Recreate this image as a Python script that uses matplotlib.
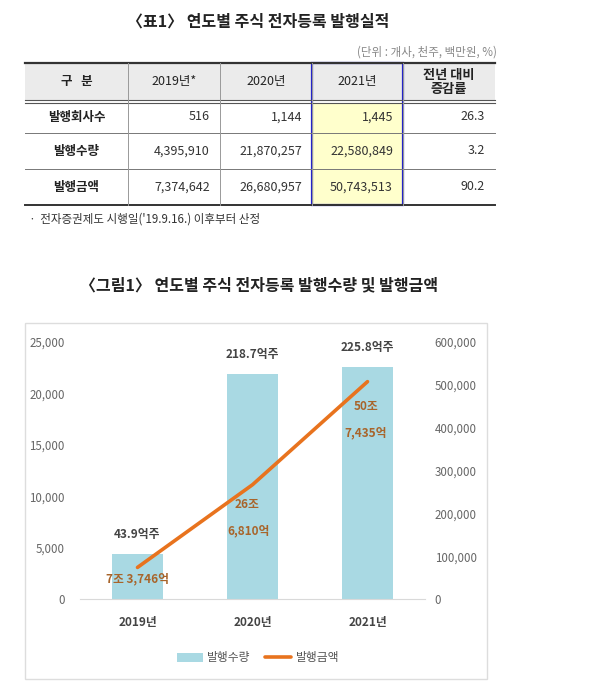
import matplotlib.pyplot as plt
from matplotlib.patches import Rectangle

plt.rcParams['font.family'] = ['Noto Sans CJK KR', 'DejaVu Sans']

# table data
col_heads = ['구   분', '2019년*', '2020년', '2021년', '전년 대비\n증감률']
row_heads = ['발행회사수', '발행수량', '발행금액']
table_vals = [['516', '1,144', '1,445', '26.3'],
              ['4,395,910', '21,870,257', '22,580,849', '3.2'],
              ['7,374,642', '26,680,957', '50,743,513', '90.2']]

# chart data
years = ['2019년', '2020년', '2021년']
qty = [4396, 21870, 22581]          # 발행수량 (백만주)
amt = [73746, 266810, 507435]       # 발행금액 (억원)
qty_labels = ['43.9억주', '218.7억주', '225.8억주']
amt_labels = [['7조 3,746억'], ['26조', '6,810억'], ['50조', '7,435억']]

W, H = 600, 690
fig = plt.figure(figsize=(W / 100, H / 100), dpi=100)

# overlay in pixel coords for table, titles and frame
ov = fig.add_axes([0, 0, 1, 1], zorder=0)
ov.set_xlim(0, W)
ov.set_ylim(H, 0)
ov.axis('off')

ov.text(258, 22, '〈표1〉 연도별 주식 전자등록 발행실적', ha='center', va='center',
        fontsize=11.5, fontweight='bold', color='#222222')
ov.text(497, 52, '(단위 : 개사, 천주, 백만원, %)', ha='right', va='center',
        fontsize=8.3, color='#888888')

cols = [25, 128, 220, 312, 403, 495]
rows = [63, 101, 133, 169, 205]

ov.add_patch(Rectangle((25, 63), 470, 37, color='#ebebeb', lw=0))
ov.add_patch(Rectangle((312, 103), 91, 102, color='#ffffcc', lw=0))
ov.plot([25, 495], [63, 63], color='#333333', lw=1.6)
ov.plot([25, 495], [100, 100], color='#555555', lw=0.8)
ov.plot([25, 495], [103, 103], color='#555555', lw=0.8)
for y in rows[2:4]:
    ov.plot([25, 495], [y, y], color='#777777', lw=0.7)
ov.plot([25, 495], [205, 205], color='#333333', lw=1.4)
for x in cols[1:-1]:
    ov.plot([x, x], [63, 205], color='#999999', lw=0.7)
ov.add_patch(Rectangle((312, 63), 91, 142, fill=False, ec='#2323c8', lw=1.6))

for i, h in enumerate(col_heads):
    xc = (cols[i] + cols[i + 1]) / 2
    ov.text(xc, 82, h, ha='center', va='center', fontsize=9.5 if i == 4 else 9,
            fontweight='bold' if i in (0, 4) else 'medium', color='#222222',
            linespacing=1.05)
for r, name in enumerate(row_heads):
    yc = (rows[r + 1] + rows[r + 2]) / 2
    ov.text((cols[0] + cols[1]) / 2, yc, name, ha='center', va='center',
            fontsize=9, fontweight='bold', color='#222222')
    for c, v in enumerate(table_vals[r]):
        ov.text(cols[c + 2] - 10, yc, v, ha='right', va='center',
                fontsize=9, color='#333333')

ov.text(27, 219, 'ㆍ 전자증권제도 시행일(\'19.9.16.) 이후부터 산정', ha='left',
        va='center', fontsize=8.3, color='#333333')

ov.text(259, 285, '〈그림1〉 연도별 주식 전자등록 발행수량 및 발행금액', ha='center',
        va='center', fontsize=11.5, fontweight='bold', color='#222222')
ov.add_patch(Rectangle((25, 323), 462, 356, fill=False, ec='#dddddd', lw=1))

# chart
ax = fig.add_axes([80 / W, (H - 599) / H, 345 / W, 257 / H], zorder=1)
ax.patch.set_alpha(0)
x = list(range(len(years)))
ax.bar(x, qty, width=0.435, color='#a9d9e3', label='발행수량')
ax.set_xlim(-0.5, 2.5)
ax.set_ylim(0, 25000)
ax.set_yticks(range(0, 25001, 5000))
ax.set_yticklabels([f'{v:,}' for v in range(0, 25001, 5000)])
ax.set_xticks(x)
ax.set_xticklabels(years, fontweight='bold')
for s in ['top', 'left', 'right']:
    ax.spines[s].set_visible(False)
ax.spines['bottom'].set_color('#d9d9d9')
ax.tick_params(axis='y', length=0, pad=11, labelsize=8.3, labelcolor='#666666')
ax.tick_params(axis='x', length=0, pad=12, labelsize=8.5, labelcolor='#444444')

ax2 = ax.twinx()
ax2.plot(x, amt, color='#e8731e', lw=2.6, solid_capstyle='round', label='발행금액')
ax2.set_ylim(0, 600000)
ax2.set_yticks(range(0, 600001, 100000))
ax2.set_yticklabels([f'{v:,}' for v in range(0, 600001, 100000)])
for s in ax2.spines.values():
    s.set_visible(False)
ax2.tick_params(axis='y', length=0, pad=7, labelsize=8.3, labelcolor='#666666')

for i, lab in enumerate(qty_labels):
    ax.annotate(lab, (i, qty[i]), xytext=(0, 14), textcoords='offset points',
                ha='center', va='center', fontsize=8.5, fontweight='bold',
                color='#444444')

lab_col = '#a8642a'
offsets = [[(0, -8)], [(-4, -14), (-3, -33)], [(-1, -18), (-1, -37)]]
for i, labs in enumerate(amt_labels):
    for lab, off in zip(labs, offsets[i]):
        ax2.annotate(lab, (i, amt[i]), xytext=off, textcoords='offset points',
                     ha='center', va='center', fontsize=8.5, fontweight='bold',
                     color=lab_col)

h1, l1 = ax.get_legend_handles_labels()
h2, l2 = ax2.get_legend_handles_labels()
fig.legend(h1 + h2, l1 + l2, loc='center', bbox_to_anchor=(258 / W, 1 - 658 / H),
           ncol=2, frameon=False, fontsize=8.5, labelcolor='#555555',
           handlelength=2.2, handleheight=0.8, columnspacing=1.2, handletextpad=0.4)

fig.savefig('out.png', dpi=100)
